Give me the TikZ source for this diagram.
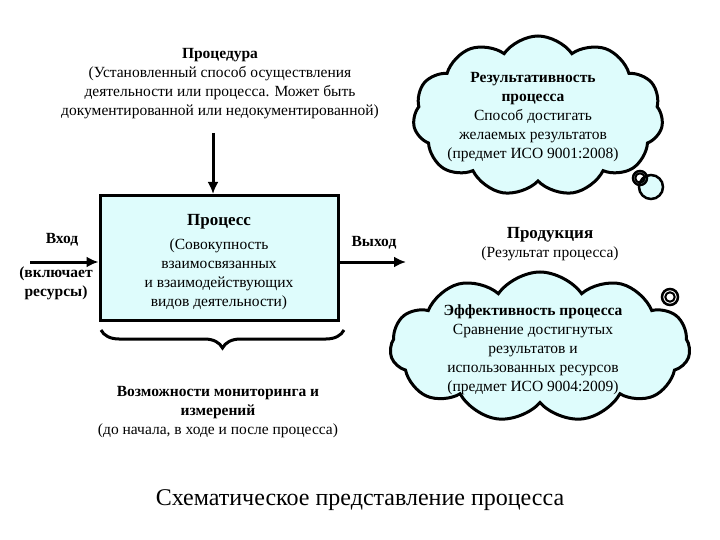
\documentclass[tikz,border=0pt]{standalone}
\usepackage{fontspec}
\setmainfont{Liberation Serif}
\usetikzlibrary{shapes.symbols,decorations.pathreplacing,arrows.meta}
\definecolor{fillc}{RGB}{222,252,252}
\tikzset{
  txt/.style={align=center,font=\fontsize{15.5}{19}\selectfont,inner sep=0pt},
  cl/.style={cloud,cloud puffs=11,cloud puff arc=110,draw,line width=3pt,fill=fillc},
  arr/.style={line width=3pt,-{Latex[length=12pt,width=11pt]}}
}
\begin{document}
\begin{tikzpicture}[x=1pt,y=-1pt]
\useasboundingbox (0,0) rectangle (720,540);
\node[txt] (proc) at (220,84) {\textbf{Процедура}\\(Установленный способ осуществления\\деятельности или процесса. Может быть\\документированной или недокументированной)};
\node[draw,line width=3pt,fill=fillc,minimum width=238,minimum height=125] (box) at (219,258) {};
\node[txt] (boxt) at (219,262) {\textbf{\fontsize{17}{19}\selectfont Процесс}\\[5pt](Совокупность\\взаимосвязанных\\и взаимодействующих\\видов деятельности)};
\coordinate (top) at (213,133);
\draw[arr] (top) -- (box.north -| top);
\coordinate (in) at (30,262);
\draw[arr] (in) -- (box.west |- in);
\coordinate (out) at (406,262);
\draw[arr] (box.east |- out) -- (out);
\node[txt] (vh) at (62,240) {\textbf{Вход}};
\node[txt] (vh2) at (56,283) {\textbf{(включает}\\\textbf{ресурсы)}};
\node[txt] (vyh) at (374,243) {\textbf{Выход}};
\coordinate (b1) at (101,330);
\coordinate (b2) at (344,330);
\draw[line width=3pt,decorate,decoration={brace,mirror,amplitude=18pt}] (b1) -- (b2);
\node[txt] (mon) at (218,412) {\textbf{Возможности мониторинга и}\\\textbf{измерений}\\(до начала, в ходе и после процесса)};
\node[cl,aspect=1.6,minimum width=250,minimum height=160] (c1) at (538,116) {};
\node[txt] (c1t) at (533,117) {\textbf{Результативность}\\\textbf{процесса}\\Способ достигать\\желаемых результатов\\(предмет ИСО 9001:2008)};
\node[draw,line width=2.5pt,fill=fillc,circle,minimum size=24] (s1) at (651,187) {};
\node[draw,line width=2.5pt,circle,minimum size=14] (s1b) at (640,178) {};
\node[draw,line width=2pt,circle,minimum size=7] (s1c) at (640,178) {};
\node[txt] (prod) at (550,244) {\textbf{\fontsize{17}{19}\selectfont Продукция}\\(Результат процесса)};
\node[cl,aspect=2,minimum width=300,minimum height=150] (c2) at (540,347) {};
\node[txt] (c2t) at (533,350) {\textbf{Эффективность процесса}\\Сравнение достигнутых\\результатов и\\использованных ресурсов\\(предмет ИСО 9004:2009)};
\node[draw,line width=2.5pt,circle,minimum size=16] (s2) at (670,297) {};
\node[draw,line width=2pt,circle,minimum size=8] (s2b) at (670,297) {};
\node[inner sep=0pt,font=\fontsize{24}{28}\selectfont] (title) at (360,500) {Схематическое представление процесса};
\end{tikzpicture}
\end{document}
